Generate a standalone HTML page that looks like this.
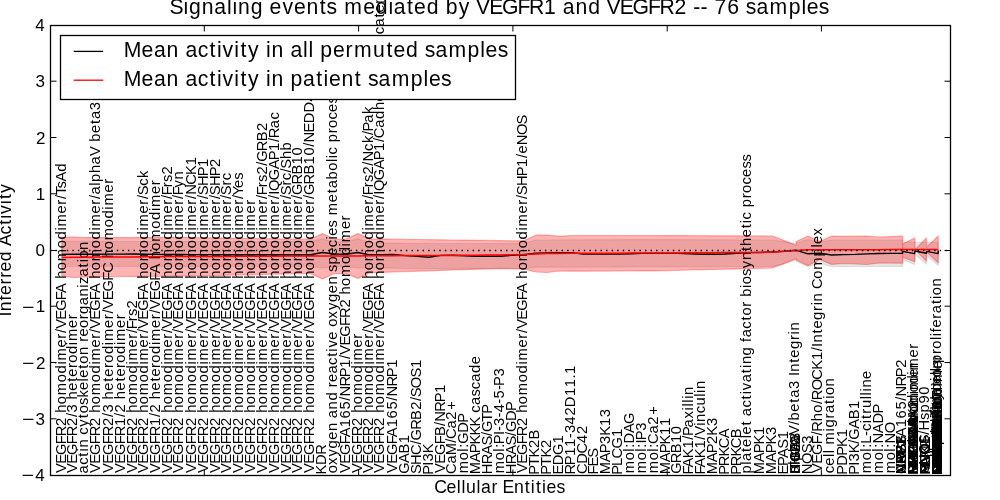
<!DOCTYPE html>
<html lang="en"><head><meta charset="utf-8"><title>Signaling events mediated by VEGFR1 and VEGFR2</title>
<style>html,body{margin:0;padding:0;background:#fff}body{width:1000px;height:500px;overflow:hidden}svg{display:block}text{font-family:"Liberation Sans",sans-serif;fill:#000;font-variant-ligatures:none;font-kerning:none;white-space:pre}.xl text{font-size:14.72px}.tk text{font-size:17.00px}.ax{font-size:17.67px}.big{font-size:21.20px}</style></head><body>
<svg width="1000" height="500" viewBox="0 0 1000 500">
<rect width="1000" height="500" fill="#fff"/>
<g opacity="0.999">
<polygon points="61.8,241.4 73.7,241.4 85.5,241.4 97.4,241.4 109.2,241.4 121.1,241.5 132.9,241.5 144.7,241.5 156.6,241.5 168.4,241.5 180.3,241.5 192.1,241.5 203.9,241.5 215.8,241.5 227.6,241.5 239.5,241.6 251.3,241.6 263.2,241.6 275.0,241.6 286.8,241.6 298.7,241.6 310.5,241.6 322.4,238.9 334.2,241.8 346.1,241.8 357.9,238.9 369.7,242.6 381.6,242.9 393.4,243.1 405.3,243.4 417.1,243.4 428.9,243.4 440.8,243.5 452.6,243.5 464.5,243.5 476.3,243.5 488.2,243.5 500.0,243.6 511.8,243.6 523.7,243.6 535.5,240.0 547.4,240.0 559.2,239.9 571.1,239.9 582.9,239.8 594.7,239.8 606.6,239.8 618.4,239.7 630.3,239.7 642.1,239.6 653.9,239.6 665.8,239.6 677.6,239.7 689.5,239.7 701.3,239.8 713.2,239.8 725.0,239.8 736.8,239.9 748.7,239.9 760.5,240.0 772.4,240.0 784.2,241.8 796.1,243.4 796.3,243.0 807.9,239.5 819.7,242.5 831.6,240.0 843.4,240.0 855.3,240.0 867.1,240.0 878.9,240.0 890.8,240.0 902.6,240.0 902.6,242.2 938.2,242.2 938.2,265.4 926.6,255.5 926.3,264.2 915.3,254.5 914.5,264.4 902.6,259.5 902.6,266.4 890.8,266.4 878.9,266.5 867.1,266.5 855.3,266.5 843.4,266.6 831.6,266.6 819.7,263.5 807.9,266.5 796.3,261.5 796.1,259.8 784.2,264.0 772.4,266.4 760.5,266.5 748.7,266.5 736.8,266.6 725.0,266.6 713.2,266.7 701.3,266.8 689.5,266.8 677.6,266.9 665.8,266.9 653.9,267.0 642.1,267.0 630.3,267.0 618.4,267.1 606.6,267.1 594.7,267.1 582.9,267.1 571.1,267.1 559.2,267.2 547.4,267.2 535.5,267.2 523.7,268.8 511.8,268.9 500.0,268.9 488.2,268.9 476.3,269.0 464.5,268.9 452.6,268.8 440.8,268.8 428.9,268.7 417.1,268.6 405.3,268.5 393.4,268.2 381.6,267.9 369.7,267.6 357.9,268.0 346.1,266.6 334.2,266.6 322.4,268.0 310.5,266.4 298.7,266.4 286.8,266.4 275.0,266.4 263.2,266.4 251.3,266.4 239.5,266.4 227.6,266.4 215.8,266.4 203.9,266.4 192.1,266.4 180.3,266.4 168.4,266.5 156.6,266.5 144.7,266.5 132.9,266.5 121.1,266.5 109.2,266.5 97.4,266.5 85.5,266.5 73.7,266.5 61.8,266.5" fill="rgb(128,128,128)" fill-opacity="0.2" stroke="rgb(128,128,128)" stroke-opacity="0.2" stroke-width="1.2" stroke-linejoin="round"/>
<polygon points="61.8,237.4 73.7,237.2 85.5,237.6 97.4,237.6 109.2,237.6 121.1,237.6 132.9,237.6 144.7,237.6 156.6,237.6 168.4,237.6 180.3,237.6 192.1,237.6 203.9,237.8 215.8,237.9 227.6,238.1 239.5,238.3 251.3,238.5 263.2,238.7 275.0,238.8 286.8,239.0 298.7,239.2 310.5,239.2 322.4,233.6 334.2,239.0 346.1,239.0 357.9,233.6 369.7,238.9 381.6,239.1 393.4,239.2 405.3,239.4 417.1,239.5 428.9,239.7 440.8,239.8 452.6,240.0 464.5,240.1 476.3,240.3 488.2,240.4 500.0,240.6 511.8,240.8 523.7,240.8 535.5,235.2 547.4,235.0 559.2,236.3 571.1,235.5 582.9,235.5 594.7,235.5 606.6,235.5 618.4,235.5 630.3,235.5 642.1,235.5 653.9,235.5 665.8,235.6 677.6,235.6 689.5,235.7 701.3,235.7 713.2,235.8 725.0,235.8 736.8,235.8 748.7,235.9 760.5,235.9 772.4,236.0 784.2,240.6 796.1,245.4 796.3,241.5 807.9,236.0 819.7,241.6 831.6,236.0 843.4,236.3 855.3,236.2 867.1,236.0 878.9,237.0 890.8,236.6 902.6,236.2 902.6,244.0 914.5,238.0 915.3,249.4 926.3,238.0 926.5,247.2 938.2,236.0 938.2,262.8 926.5,252.0 926.3,261.2 915.3,249.8 914.5,261.6 902.6,257.2 902.6,263.2 890.8,263.1 878.9,263.0 867.1,264.5 855.3,264.0 843.4,263.5 831.6,264.4 819.7,259.4 807.9,265.6 796.3,260.0 796.1,258.6 784.2,263.4 772.4,268.0 760.5,268.3 748.7,268.6 736.8,268.9 725.0,269.2 713.2,269.4 701.3,269.7 689.5,270.0 677.6,270.3 665.8,270.6 653.9,270.9 642.1,270.9 630.3,271.0 618.4,271.0 606.6,271.1 594.7,271.1 582.9,271.2 571.1,271.2 559.2,271.0 547.4,272.5 535.5,272.0 523.7,268.8 511.8,268.6 500.0,268.4 488.2,268.8 476.3,269.2 464.5,269.6 452.6,270.0 440.8,270.4 428.9,270.8 417.1,271.2 405.3,271.6 393.4,272.0 381.6,272.4 369.7,272.8 357.9,278.4 346.1,273.5 334.2,273.5 322.4,278.9 310.5,273.6 298.7,273.6 286.8,274.0 275.0,274.2 263.2,274.5 251.3,274.8 239.5,275.0 227.6,275.2 215.8,275.5 203.9,275.8 192.1,276.0 180.3,276.1 168.4,276.2 156.6,276.3 144.7,276.4 132.9,276.4 121.1,276.5 109.2,276.6 97.4,276.7 85.5,276.8 73.7,277.6 61.8,275.8" fill="rgb(255,0,0)" fill-opacity="0.3" stroke="rgb(255,0,0)" stroke-opacity="0.3" stroke-width="1.2" stroke-linejoin="round"/>
<path d="M902.6 244V257.2" stroke="rgb(255,0,0)" stroke-opacity="0.3" stroke-width="1.2" fill="none"/>
<g class="xl">
<text transform="translate(65.8 472.7) rotate(-90)" x="-0.3 8.9 17.8 28.4 36.4 46.8 55.4 59.9 68.5 77.5 90.5 99.2 108.1 112.3 125.3 134 139.7 143.9 153 161.9 172.5 179.6 189.4 193.9 202.5 211.5 224.5 233.2 242.1 246.3 259.3 268 273.7 277.8 284.2 291.2 301">VEGFR2 homodimer/VEGFA homodimer/TsAd</text>
<text transform="translate(76.8 472.7) rotate(-90)" x="-0.3 8.9 17.8 28.4 36.4 46.8 55.6 60.2 68.8 73.3 81.9 90.9 95.9 104.7 109.9 118.6 127.4 131.6 144.7 153.4">VEGFR2/3 heterodimer</text>
<text transform="translate(87.8 472.7) rotate(-90)" x="-0.7 7.9 16 21.2 25.1 33.7 38 45.9 54.4 59.4 67.7 75.2 82.7 91.3 95 104 109 117.7 126.3 130.9 136.2 144.7 153.4 158.8 167.5 176.3 185 188.6 196.2 205.3 210.4 214.2 222.8">actin cytoskeleton reorganization</text>
<text transform="translate(99.8 472.7) rotate(-90)" x="-0.3 8.9 17.8 28.4 36.4 46.8 55.4 59.9 68.5 77.5 90.5 99.2 108.1 112.3 125.3 134 139.7 143.9 153 161.9 172.5 179.6 189.4 193.9 202.5 211.5 224.5 233.2 242.1 246.3 259.3 268 273.7 278.2 286.9 290.8 299.7 308.3 316.6 326.4 331 339.7 348.7 353.7 362.5">VEGFR2 homodimer/VEGFA homodimer/alphaV beta3</text>
<text transform="translate(112.8 472.7) rotate(-90)" x="-0.3 8.9 17.8 28.4 36.4 46.8 55.6 60.2 68.8 73.3 81.9 90.9 95.9 104.7 109.9 118.6 127.4 131.6 144.7 153.4 159.1 163.2 172.4 181.3 191.9 199.9 210.3 214.8 223.4 232.4 245.4 254.1 262.9 267.1 280.2 288.9">VEGFR2/3 heterodimer/VEGFC homodimer</text>
<text transform="translate(124.8 472.7) rotate(-90)" x="-0.3 8.9 17.8 28.4 36.4 46.8 55.7 60.3 68.9 73.4 82.1 91.1 96.1 104.8 110 118.7 127.6 131.8 144.8 153.5">VEGFR1/2 heterodimer</text>
<text transform="translate(136.8 472.7) rotate(-90)" x="-0.3 8.9 17.8 28.4 36.4 46.8 55.4 59.9 68.5 77.5 90.5 99.2 108.1 112.3 125.3 134 139.7 143.5 151.4 156.7 164.2">VEGFR2 homodimer/Frs2</text>
<text transform="translate(147.8 472.7) rotate(-90)" x="-0.3 8.9 17.8 28.4 36.4 46.8 55.4 59.9 68.5 77.5 90.5 99.2 108.1 112.3 125.3 134 139.7 143.9 153 161.9 172.5 179.6 189.4 193.9 202.5 211.5 224.5 233.2 242.1 246.3 259.3 268 273.7 277.5 286.9 294.7">VEGFR2 homodimer/VEGFA homodimer/Sck</text>
<text transform="translate(159.8 472.7) rotate(-90)" x="-0.3 8.9 17.8 28.4 36.4 46.8 55.7 60.3 68.9 73.4 82.1 91.1 96.1 104.8 110 118.7 127.6 131.8 144.8 153.5 159.2 163.4 172.5 181.4 192 199.1 208.9 213.4 222 231 244 252.7 261.6 265.8 278.8 287.5">VEGFR1/2 heterodimer/VEGFA homodimer</text>
<text transform="translate(171.8 472.7) rotate(-90)" x="-0.3 8.9 17.8 28.4 36.4 46.8 55.4 59.9 68.5 77.5 90.5 99.2 108.1 112.3 125.3 134 139.7 143.9 153 161.9 172.5 179.6 189.4 193.9 202.5 211.5 224.5 233.2 242.1 246.3 259.3 268 273.7 277.5 285.4 290.7 298.2">VEGFR2 homodimer/VEGFA homodimer/Frs2</text>
<text transform="translate(182.8 472.7) rotate(-90)" x="-0.3 8.9 17.8 28.4 36.4 46.8 55.4 59.9 68.5 77.5 90.5 99.2 108.1 112.3 125.3 134 139.7 143.9 153 161.9 172.5 179.6 189.4 193.9 202.5 211.5 224.5 233.2 242.1 246.3 259.3 268 273.7 277.5 285.2 293.3">VEGFR2 homodimer/VEGFA homodimer/Fyn</text>
<text transform="translate(195.8 472.7) rotate(-90)" x="-0.3 8.9 17.8 28.4 36.4 46.8 55.4 59.9 68.5 77.5 90.5 99.2 108.1 112.3 125.3 134 139.7 143.9 153 161.9 172.5 179.6 189.4 193.9 202.5 211.5 224.5 233.2 242.1 246.3 259.3 268 273.7 277.9 287.9 297.8 307.5">VEGFR2 homodimer/VEGFA homodimer/NCK1</text>
<text transform="translate(207.8 472.7) rotate(-90)" x="-0.3 8.9 17.8 28.4 36.4 46.8 55.4 59.9 68.5 77.5 90.5 99.2 108.1 112.3 125.3 134 139.7 143.9 153 161.9 172.5 179.6 189.4 193.9 202.5 211.5 224.5 233.2 242.1 246.3 259.3 268 273.7 277.5 286.7 296.4 305.8">VEGFR2 homodimer/VEGFA homodimer/SHP1</text>
<text transform="translate(219.8 472.7) rotate(-90)" x="-0.3 8.9 17.8 28.4 36.4 46.8 55.4 59.9 68.5 77.5 90.5 99.2 108.1 112.3 125.3 134 139.7 143.9 153 161.9 172.5 179.6 189.4 193.9 202.5 211.5 224.5 233.2 242.1 246.3 259.3 268 273.7 277.5 286.7 296.4 305.8">VEGFR2 homodimer/VEGFA homodimer/SHP2</text>
<text transform="translate(230.8 472.7) rotate(-90)" x="-0.3 8.9 17.8 28.4 36.4 46.8 55.4 59.9 68.5 77.5 90.5 99.2 108.1 112.3 125.3 134 139.7 143.9 153 161.9 172.5 179.6 189.4 193.9 202.5 211.5 224.5 233.2 242.1 246.3 259.3 268 273.7 277.5 287.2 292.4">VEGFR2 homodimer/VEGFA homodimer/Src</text>
<text transform="translate(242.8 472.7) rotate(-90)" x="-0.3 8.9 17.8 28.4 36.4 46.8 55.4 59.9 68.5 77.5 90.5 99.2 108.1 112.3 125.3 134 139.7 143.9 153 161.9 172.5 179.6 189.4 193.9 202.5 211.5 224.5 233.2 242.1 246.3 259.3 268 273.7 277.3 284.7 292.9">VEGFR2 homodimer/VEGFA homodimer/Yes</text>
<text transform="translate(254.8 472.7) rotate(-90)" x="-0.3 8.9 17.8 28.4 36.4 46.8 55.4 59.9 68.5 77.5 90.5 99.2 108.1 112.3 125.3 134 139.7 143.9 153 161.9 172.5 179.6 189.4 193.9 202.5 211.5 224.5 233.2 242.1 246.3 259.3 268">VEGFR2 homodimer/VEGFA homodimer</text>
<text transform="translate(266.8 472.7) rotate(-90)" x="-0.3 8.9 17.8 28.4 36.4 46.8 55.4 59.9 68.5 77.5 90.5 99.2 108.1 112.3 125.3 134 139.7 143.9 153 161.9 172.5 179.6 189.4 193.9 202.5 211.5 224.5 233.2 242.1 246.3 259.3 268 273.7 277.5 285.4 290.7 298.2 306.9 310.9 321.5 331.5 341.6">VEGFR2 homodimer/VEGFA homodimer/Frs2/GRB2</text>
<text transform="translate(278.8 472.7) rotate(-90)" x="-0.3 8.9 17.8 28.4 36.4 46.8 55.4 59.9 68.5 77.5 90.5 99.2 108.1 112.3 125.3 134 139.7 143.9 153 161.9 172.5 179.6 189.4 193.9 202.5 211.5 224.5 233.2 242.1 246.3 259.3 268 273.7 278 281.8 292.5 303.5 312.4 321.8 330.7 334.5 344.5 353.1">VEGFR2 homodimer/VEGFA homodimer/IQGAP1/Rac</text>
<text transform="translate(290.8 472.7) rotate(-90)" x="-0.3 8.9 17.8 28.4 36.4 46.8 55.4 59.9 68.5 77.5 90.5 99.2 108.1 112.3 125.3 134 139.7 143.9 153 161.9 172.5 179.6 189.4 193.9 202.5 211.5 224.5 233.2 242.1 246.3 259.3 268 273.7 277.5 287.2 292.4 300.2 304 313.6 322.3">VEGFR2 homodimer/VEGFA homodimer/Src/Shb</text>
<text transform="translate(301.8 472.7) rotate(-90)" x="-0.3 8.9 17.8 28.4 36.4 46.8 55.4 59.9 68.5 77.5 90.5 99.2 108.1 112.3 125.3 134 139.7 143.9 153 161.9 172.5 179.6 189.4 193.9 202.5 211.5 224.5 233.2 242.1 246.3 259.3 268 273.7 277.7 288.3 298.2 308.3 317.2">VEGFR2 homodimer/VEGFA homodimer/GRB10</text>
<text transform="translate(313.8 472.7) rotate(-90)" x="-0.3 8.9 17.8 28.4 36.4 46.8 55.4 59.9 68.5 77.5 90.5 99.2 108.1 112.3 125.3 134 139.7 143.9 153 161.9 172.5 179.6 189.4 193.9 202.5 211.5 224.5 233.2 242.1 246.3 259.3 268 273.7 277.7 288.3 298.2 308.3 317.2 325.9 330.1 340.1 349.4 360.2 371.2">VEGFR2 homodimer/VEGFA homodimer/GRB10/NEDD4</text>
<text transform="translate(325.8 472.7) rotate(-90)" x="-1.7 7.7 17.9">KDR</text>
<text transform="translate(336.8 472.7) rotate(-90)" x="-0.6 7.8 16.1 24.2 32.9 41.6 50.2 54.5 63.3 72.1 80.8 85.4 90.7 99.2 107.8 115.9 121 125.1 133 141.5 145.9 154.3 162.6 170.7 179.4 188.1 196.7 200.8 208.3 217 225.5 233.3 237 245.3 252.7 257.5 270.5 279.5 284.5 293.3 302 310.7 314.5 318.3 325.9 330.4 339.4 344.7 353.1 360.8 369.1 376.2">oxygen and reactive oxygen species metabolic process</text>
<text transform="translate(349.8 472.7) rotate(-90)" x="-0.3 8.9 17.8 28.4 35.5 45.5 54.3 63.2 71.9 76.1 86.1 95.5 105 113.8 118 127.1 136 146.6 154.6 165.1 173.7 178.2 186.8 195.8 208.8 217.5 226.3 230.5 243.6 252.3">VEGFA165/NRP1/VEGFR2 homodimer</text>
<text transform="translate(361.8 472.7) rotate(-90)" x="-0.3 8.9 17.8 28.4 36.4 46.8 55.4 59.9 68.5 77.5 90.5 99.2 108.1 112.3 125.3 134">VEGFR2 homodimer</text>
<text transform="translate(372.8 472.7) rotate(-90)" x="-0.3 8.9 17.8 28.4 36.4 46.8 55.4 59.9 68.5 77.5 90.5 99.2 108.1 112.3 125.3 134 139.7 143.9 153 161.9 172.5 179.6 189.4 193.9 202.5 211.5 224.5 233.2 242.1 246.3 259.3 268 273.7 277.5 285.4 290.7 298.2 306.9 311.1 321.8 329.6 337.7 341.3 349.9 358.7">VEGFR2 homodimer/VEGFA homodimer/Frs2/Nck/Pak</text>
<text transform="translate(383.8 472.7) rotate(-90)" x="-0.3 8.9 17.8 28.4 36.4 46.8 55.4 59.9 68.5 77.5 90.5 99.2 108.1 112.3 125.3 134 139.7 143.9 153 161.9 172.5 179.6 189.4 193.9 202.5 211.5 224.5 233.2 242.1 246.3 259.3 268 273.7 278 281.8 292.5 303.5 312.4 321.8 330.7 334.5 344.9 353.7 362.6 371.2 379.9 385.6 389.4 398.2 402.8 411.6 420.6 425.5 434.2 438.5 446.2 455.3 460.3 468.9 477.7 481.6 490.3 494.8 503.6 507.5 516.3 524.9 533.6 537.9 545.5 554.7 559.7 568.3 577.1 580.9">VEGFR2 homodimer/VEGFA homodimer/IQGAP1/Cadherin/beta catenin/alpha catenin</text>
<text transform="translate(396.8 472.7) rotate(-90)" x="-0.3 8.9 17.8 28.4 35.5 45.5 54.3 63.2 71.9 76.1 86.1 95.5 105">VEGFA165/NRP1</text>
<text transform="translate(408.8 472.7) rotate(-90)" x="-1.1 9.8 19.3 29.4">GAB1</text>
<text transform="translate(420.8 472.7) rotate(-90)" x="-1.4 7.8 17.8 28.3 32.3 42.9 52.8 62.9 71.7 75.5 84.5 95.1 104.7">SHC/GRB2/SOS1</text>
<text transform="translate(432.8 472.7) rotate(-90)" x="-2.1 7 11.3 19.4">PI3K</text>
<text transform="translate(444.8 472.7) rotate(-90)" x="-0.3 8.9 17.8 28.4 36.7 46.8 51 61 70.4 79.8">VEGFB/NRP1</text>
<text transform="translate(455.8 472.7) rotate(-90)" x="-1.2 9.2 17.5 29.9 33.8 44.2 52.9 62.9">CaM/Ca2+</text>
<text transform="translate(467.8 472.7) rotate(-90)" x="-0.6 12.4 21 24.9 28.9 40 50">mol:GDP</text>
<text transform="translate(479.8 472.7) rotate(-90)" x="-1.5 10.5 19.4 28.1 37.1 46.1 55.7 60 67.7 76.1 83.4 91 99.8 108.5">MAPKKK cascade</text>
<text transform="translate(491.8 472.7) rotate(-90)" x="-1.5 8.5 18 27.1 36.7 40.7 51 59">HRAS/GTP</text>
<text transform="translate(503.8 472.7) rotate(-90)" x="-0.6 12.4 21 24.9 28.5 37.6 41.7 46.8 55.3 60.4 68.9 74.1 82.6 86.6 96.1">mol:PI-3-4-5-P3</text>
<text transform="translate(515.8 472.7) rotate(-90)" x="-1.5 8.5 18 27.1 36.7 40.7 51.8 61.8">HRAS/GDP</text>
<text transform="translate(526.8 472.7) rotate(-90)" x="-0.3 8.9 17.8 28.4 36.4 46.8 55.4 59.9 68.5 77.5 90.5 99.2 108.1 112.3 125.3 134 139.7 143.9 153 161.9 172.5 179.6 189.4 193.9 202.5 211.5 224.5 233.2 242.1 246.3 259.3 268 273.7 277.5 286.7 296.4 305.8 314.7 319.2 327.4 337.6 348.3">VEGFR2 homodimer/VEGFA homodimer/SHP1/eNOS</text>
<text transform="translate(538.8 472.7) rotate(-90)" x="-2.1 6.7 15.1 24.8 33.1">PTK2B</text>
<text transform="translate(550.8 472.7) rotate(-90)" x="-2.1 6.7 15.1 24.8">PTK2</text>
<text transform="translate(562.8 472.7) rotate(-90)" x="-1.9 7.4 17.8 29.2">EDG1</text>
<text transform="translate(574.8 472.7) rotate(-90)" x="-1.9 7.5 16.9 25.8 34.4 39.6 48.3 57.1 65.5 76.6 85.4 94.2 98.7">RP11-342D11.1</text>
<text transform="translate(586.8 472.7) rotate(-90)" x="-1.2 9 19.3 29.8 38.6">CDC42</text>
<text transform="translate(597.8 472.7) rotate(-90)" x="-1.9 6.1 14.9">FES</text>
<text transform="translate(609.8 472.7) rotate(-90)" x="-1.5 10.5 19.4 28.8 36.9 46.6 55.4">MAP3K13</text>
<text transform="translate(621.8 472.7) rotate(-90)" x="-2.1 6.8 14.3 24.2 35.6">PLCG1</text>
<text transform="translate(633.8 472.7) rotate(-90)" x="-0.6 12.4 21 24.9 29.3 39.6 48.7">mol:DAG</text>
<text transform="translate(645.8 472.7) rotate(-90)" x="-0.6 12.4 21 24.9 29.3 32.5 41.9">mol:IP3</text>
<text transform="translate(657.8 472.7) rotate(-90)" x="-0.6 12.4 21 24.9 28.8 39.2 47.9 57.9">mol:Ca2+</text>
<text transform="translate(669.8 472.7) rotate(-90)" x="-1.5 10.5 19.4 28.1 37.8 46.7">MAPK11</text>
<text transform="translate(680.8 472.7) rotate(-90)" x="-1.1 9.5 19.5 29.6 38.4">GRB10</text>
<text transform="translate(692.8 472.7) rotate(-90)" x="-1.9 5.2 14.5 24.2 33 36.6 45.3 54.2 62.3 66.2 70 73.9 77.8">FAK1/Paxillin</text>
<text transform="translate(704.8 472.7) rotate(-90)" x="-1.9 5.2 14.5 24.2 33 37.2 46.9 50.8 59.4 67.2 75.9 79.8 83.7">FAK1/Vinculin</text>
<text transform="translate(716.8 472.7) rotate(-90)" x="-1.5 10.5 19.4 28.8 36.9 46.6">MAP2K3</text>
<text transform="translate(728.8 472.7) rotate(-90)" x="-2.1 6.5 16.3 24.4 34.5">PRKCA</text>
<text transform="translate(740.8 472.7) rotate(-90)" x="-2.1 6.5 16.3 24.4 34.5">PRKCB</text>
<text transform="translate(750.8 472.7) rotate(-90)" x="-0.9 7.9 11.7 20.8 25.8 34.4 38.2 47.2 52.2 56.5 65.1 73.3 78.4 82.4 90.4 99.5 104.7 108.6 117.3 126 130.6 135.4 144 152.2 157.2 165.9 171.4 175.9 184.8 188.5 196.8 204.4 212.6 221.7 226.8 235.4 244.4 249.5 253.3 260.9 265.4 274.4 279.7 288.1 295.8 304.1 311.2">platelet activating factor biosynthetic process</text>
<text transform="translate(763.8 472.7) rotate(-90)" x="-1.5 10.5 19.4 28.1 37.8">MAPK1</text>
<text transform="translate(775.8 472.7) rotate(-90)" x="-1.5 10.5 19.4 28.1 37.8">MAPK3</text>
<text transform="translate(787.8 472.7) rotate(-90)" x="-1.9 6.6 14.7 23.9 33.4">EPAS1</text>
<text transform="translate(798.8 472.7) rotate(-90)" x="-0.7 8 11.9 20.8 29.4 37.7 47.7 52.3 61 70 75 83.8 92.4 96.6 100.9 110 115 123.7 132.7 138.3 142.2">alphaV/beta3 Integrin</text>
<text transform="translate(811.8 472.7) rotate(-90)" x="-1.5 8.7 19.4 28.9">NOS3</text>
<text transform="translate(821.8 472.7) rotate(-90)" x="-0.3 8.9 17.8 28.4 37.2 41 51.4 60 68.7 72.5 82.4 93 102.9 112.6 121.4 125.8 130.1 139.2 144.2 152.8 161.8 167.4 171.3 179.9 183.7 194 203 216.2 225.1 228.8 237.3">VEGF/Rho/ROCK1/Integrin Complex</text>
<text transform="translate(833.8 472.7) rotate(-90)" x="-0.6 7 15.7 19.5 23.3 28.1 41.3 45.2 54.2 59.7 68.8 73.9 77.7 86.3">cell migration</text>
<text transform="translate(846.8 472.7) rotate(-90)" x="-2.1 7 17 25.8 35.4">PDPK1</text>
<text transform="translate(858.8 472.7) rotate(-90)" x="-2.1 7 11.3 19.4 29 33 44 53.5 63.6">PI3K/GAB1</text>
<text transform="translate(870.8 472.7) rotate(-90)" x="-0.6 12.4 21 24.9 29 36.8 41.8 49.5 53.8 59 64.7 73.4 77.3 81.2 85.1 93.7">mol:L-citrulline</text>
<text transform="translate(882.8 472.7) rotate(-90)" x="-0.6 12.4 21 24.9 29.1 39.5 49.2 59.1">mol:NADP</text>
<text transform="translate(894.8 472.7) rotate(-90)" x="-0.6 12.4 21 24.9 29.1 39.4">mol:NO</text>
<text transform="translate(799.8 472.7) rotate(-90)" x="-1.4 2.4 10.8 21.7 30.3">ITGAV</text>
<text transform="translate(799.8 472.7) rotate(-90)" x="-1.4 2.4 10.8 21.7 31.8">ITGB3</text>
<text transform="translate(799.8 472.7) rotate(-90)" x="-1.4 7.8 17.8 28.3">SHC2</text>
<text transform="translate(905.8 472.7) rotate(-90)" x="-0.3 8.9 17.8 28.4 35.5 45.5 54.3 63.2 71.9 76.1 86.1 95.5 105">VEGFA165/NRP2</text>
<text transform="translate(905.8 472.7) rotate(-90)" x="-1.5 8.5 17.9 27.3">NRP2</text>
<text transform="translate(905.8 472.7) rotate(-90)" x="-1.5 8.5 17.9 27.3">NRP1</text>
<text transform="translate(905.8 472.7) rotate(-90)" x="-1.2 8.8 17.5 27.4">CAV1</text>
<text transform="translate(905.8 472.7) rotate(-90)" x="-0.3 9 17 26.1">AKT1</text>
<text transform="translate(905.8 472.7) rotate(-90)" x="-1.5 8.7 19.4 28.9">NOS3</text>
<text transform="translate(917.8 472.7) rotate(-90)" x="-0.3 8.9 17.8 28.4 35.5 45.3 49.8 58.4 67.4 80.4 89.1 97.9 102.1 115.2 123.9">VEGFA homodimer</text>
<text transform="translate(917.8 472.7) rotate(-90)" x="-2.1 6.7 17.2 25.9 30.4 39 48 61 69.7 78.5 82.8 95.8 104.5">PGF homodimer</text>
<text transform="translate(917.8 472.7) rotate(-90)" x="-1.5 8.5 17 26.4 35.3 43.6 53.5 63.4">HSP90AA1</text>
<text transform="translate(917.8 472.7) rotate(-90)" x="-1.5 10.5 19.4 28.1 37.1 46 54.8 64.4">MAPKAPK2</text>
<text transform="translate(917.8 472.7) rotate(-90)" x="-2.1 6.5 16.3 25.2 34.2 44.2">PRKACA</text>
<text transform="translate(917.8 472.7) rotate(-90)" x="-1.5 10.5 19.4 28.8 36.9 46.6">MAP2K6</text>
<text transform="translate(917.8 472.7) rotate(-90)" x="-1.5 10.5 19.4 28.1 37.8 46.7">MAPK14</text>
<text transform="translate(917.8 472.7) rotate(-90)" x="-1.4 7.8 18.6 27 38.1 46.3">SH2D2A</text>
<text transform="translate(917.8 472.7) rotate(-90)" x="-0.3 8.9 17.8 28.4 35.5">VEGFA</text>
<text transform="translate(917.8 472.7) rotate(-90)" x="-1.5 9 12.5 21.3 29.7">HIF1A</text>
<text transform="translate(917.8 472.7) rotate(-90)" x="-1.9 8.2 18.4 29.1">RHOA</text>
<text transform="translate(928.8 472.7) rotate(-90)" x="-0.6 7.6 17.9 28.5 38 42.3 52.7 60.2 69.1 77.9">eNOS/Hsp90</text>
<text transform="translate(929.8 472.7) rotate(-90)" x="-1.5 8.5 18.4 28.1">NCK1</text>
<text transform="translate(929.8 472.7) rotate(-90)" x="-2.1 6 15.3 24.9">PAK2</text>
<text transform="translate(929.8 472.7) rotate(-90)" x="-1.9 6.4 12.2 21.3">FLT1</text>
<text transform="translate(929.8 472.7) rotate(-90)" x="-1.5 10 18 28.6">MYOF</text>
<text transform="translate(940.8 472.7) rotate(-90)" x="-0.6 8.1 16.8 25.5 34.5 39.7 48.3 56.9 60.8 64.5 73.3 77 81.4 89 97.7 101.5 105.3 109.8 118.8 124 132.7 136.5 140.5 145.3 154 159.5 168.7 173.8 177.5 186.2">endothelial cell proliferation</text>
<text transform="translate(941.8 472.7) rotate(-90)" x="-2.1 6.8 14.4 25 33.7 38.2 46.8 55.8 68.8 77.4 86.3 90.5 103.5 112.3">PLGF homodimer</text>
<text transform="translate(940.8 472.7) rotate(-90)" x="-0.6 7 15.7 19.5 23.3 27.8 36.8 42 50.7 54.5 58.5 63.3 72 77.5 86.7 91.8 95.5 104.2">cell proliferation</text>
<text transform="translate(941.8 472.7) rotate(-90)" x="-1.5 9 12.5 21.3 29.7 39.7 43.8 53 63 73.2">HIF1A/ARNT</text>
<text transform="translate(941.8 472.7) rotate(-90)" x="0 8 16.4 23.7 32.4 41.2 45.1 48.9 58 63.1 66.9 75.5">vasodilation</text>
<text transform="translate(941.8 472.7) rotate(-90)" x="-0.3 8.9 17.8 28.4 36.4 46.8 55.7 60.3">VEGFR1/2</text>
<text transform="translate(941.8 472.7) rotate(-90)" x="-1.2 9.2 18.1 26 34.5 43.2 47 50.9 59.4 64.6">Caveolin-1</text>
<text transform="translate(940.8 472.7) rotate(-90)" x="-0.6 7 15.7 19.5 23.3 28.1 41.2 50.2 55.3 59.2 63 67.3 72.6">cell motility</text>
<text transform="translate(941.8 472.7) rotate(-90)" x="-1.5 8.5 17 26.4 35.3 43.6 53.1 63.2">HSP90AB1</text>
<text transform="translate(941.8 472.7) rotate(-90)" x="-1.2 8.7 17.4 27.7 38.1 48.2">CTNNB1</text>
<text transform="translate(941.8 472.7) rotate(-90)" x="-1.2 8.7 17.4 27.7 38.1 48.1">CTNNA1</text>
<text transform="translate(941.8 472.7) rotate(-90)" x="-2.1 6.7 14.8 23.7 34.6 43.4">PTPN11</text>
<text transform="translate(941.8 472.7) rotate(-90)" x="-2.1 7 10.6 20.3 28.3 38.3">PIK3CA</text>
<text transform="translate(941.8 472.7) rotate(-90)" x="-2.1 7 10.6 20.3 28.3 38.7">PIK3R1</text>
<text transform="translate(941.8 472.7) rotate(-90)" x="-2.1 6.5 16.3 25.2 35.1 45.1">PRKAA1</text>
<text transform="translate(941.8 472.7) rotate(-90)" x="-2.1 6.5 16.3 25.2 34.7 44.8">PRKAB1</text>
<text transform="translate(941.8 472.7) rotate(-90)" x="-2.1 6.5 16.3 25.2 34.3 45.7">PRKAG1</text>
<text transform="translate(941.8 472.7) rotate(-90)" x="-1.5 8.5 17 26 36.1">HSPB1</text>
<text transform="translate(941.8 472.7) rotate(-90)" x="-1.9 8 18.7 28.5 38.2">ROCK1</text>
<text transform="translate(941.8 472.7) rotate(-90)" x="-0.3 8.9 17.8 28.4 36.7">VEGFB</text>
<text transform="translate(941.8 472.7) rotate(-90)" x="-1.5 8.5 17.8 28.5 39.6">NEDD4</text>
<text transform="translate(941.8 472.7) rotate(-90)" x="-2.1 6.7 14.8 23.7 34.6">PTPN6</text>
<text transform="translate(941.8 472.7) rotate(-90)" x="-1.5 10.5 19.4 28.8 36.9 46.6">MAP2K1</text>
<text transform="translate(941.8 472.7) rotate(-90)" x="-1.5 10.5 19.4 28.8 36.9 46.6">MAP2K2</text>
</g>
<polyline points="61.8,254.4 73.7,254.3 85.5,254.3 97.4,254.2 109.2,254.1 121.1,254.1 132.9,254.0 144.7,254.2 156.6,254.4 168.4,254.5 180.3,254.5 192.1,254.6 203.9,254.6 215.8,254.6 227.6,254.7 239.5,254.7 251.3,254.7 263.2,254.7 275.0,254.8 286.8,254.8 298.7,254.8 310.5,254.8 322.4,252.5 334.2,254.0 346.1,254.2 357.9,252.5 369.7,255.0 381.6,254.8 393.4,254.5 405.3,255.6 417.1,256.4 428.9,257.2 440.8,255.4 452.6,255.3 464.5,255.8 476.3,256.2 488.2,256.2 500.0,256.2 511.8,255.4 523.7,254.6 535.5,253.2 547.4,253.0 559.2,252.6 571.1,252.6 582.9,254.0 594.7,254.0 606.6,254.0 618.4,254.0 630.3,253.7 642.1,253.4 653.9,253.4 665.8,253.4 677.6,253.4 689.5,253.9 701.3,254.3 713.2,254.2 725.0,254.0 736.8,253.3 748.7,252.6 760.5,252.6 772.4,251.9 784.2,251.2 796.1,250.2 796.3,250.4 807.9,253.8 819.7,253.2 831.6,255.0 843.4,254.6 855.3,254.4 867.1,253.9 878.9,253.5 890.8,253.4 902.6,253.3 902.6,251.4 914.5,253.6 915.0,251.0 926.3,253.2 926.7,251.4 938.2,253.6 938.2,250.6" fill="none" stroke="#000" stroke-width="1.39" stroke-linejoin="round"/>
<polyline points="61.8,257.4 73.7,257.3 85.5,257.2 97.4,257.1 109.2,257.1 121.1,257.0 132.9,256.9 144.7,256.8 156.6,256.7 168.4,256.6 180.3,256.6 192.1,256.5 203.9,256.5 215.8,256.4 227.6,256.4 239.5,256.3 251.3,256.3 263.2,256.2 275.0,256.2 286.8,256.1 298.7,256.1 310.5,256.0 322.4,256.0 334.2,255.9 346.1,255.9 357.9,255.9 369.7,255.8 381.6,255.7 393.4,255.7 405.3,255.6 417.1,255.6 428.9,255.5 440.8,255.5 452.6,255.4 464.5,255.3 476.3,255.2 488.2,255.1 500.0,255.0 511.8,254.8 523.7,254.5 535.5,254.1 547.4,253.6 559.2,253.4 571.1,253.3 582.9,253.3 594.7,253.2 606.6,253.2 618.4,253.2 630.3,253.1 642.1,253.1 653.9,253.0 665.8,252.9 677.6,252.9 689.5,252.8 701.3,252.8 713.2,252.7 725.0,252.6 736.8,252.6 748.7,252.5 760.5,252.3 772.4,252.2 784.2,251.3 796.1,250.4 796.3,250.4 807.9,249.8 819.7,249.8 831.6,249.8 843.4,249.7 855.3,249.7 867.1,249.7 878.9,249.7 890.8,249.6 902.6,249.6 938.2,249.5" fill="none" stroke="#f00" stroke-width="1.5" stroke-linejoin="round"/>
<line x1="50.5" y1="250.5" x2="950.5" y2="250.5" stroke="#000" stroke-width="1.39" stroke-dasharray="1.39 4.17" stroke-dashoffset="0.4"/>
<rect x="50.5" y="25.5" width="900" height="450" fill="none" stroke="#000" stroke-width="1.3"/>
<path d="M51 25.5h5.5M950 25.5h-5.5M51 81.2h5.5M950 81.2h-5.5M51 137.5h5.5M950 137.5h-5.5M51 193.8h5.5M950 193.8h-5.5M51 250.5h5.5M950 250.5h-5.5M51 306.2h5.5M950 306.2h-5.5M51 362.5h5.5M950 362.5h-5.5M51 418.8h5.5M950 418.8h-5.5M51 475.5h5.5M950 475.5h-5.5M204.3 475v-5.5M204.3 26v5.5M358.6 475v-5.5M358.6 26v5.5M512.9 475v-5.5M512.9 26v5.5M667.2 475v-5.5M667.2 26v5.5M821.4 475v-5.5M821.4 26v5.5" stroke="#000" stroke-width="1" fill="none"/>
<g class="tk">
<text x="35.3" y="31">4</text>
<text x="35.6" y="87.2">3</text>
<text x="35.9" y="143.5">2</text>
<text x="35.7" y="199.8">1</text>
<text x="35.4" y="256">0</text>
<text x="22" y="312.6" textLength="12.5" lengthAdjust="spacingAndGlyphs">−</text>
<text x="35.7" y="312.2">1</text>
<text x="22.1" y="368.9" textLength="12.5" lengthAdjust="spacingAndGlyphs">−</text>
<text x="35.9" y="368.5">2</text>
<text x="21.9" y="425.1" textLength="12.5" lengthAdjust="spacingAndGlyphs">−</text>
<text x="35.6" y="424.8">3</text>
<text x="21.6" y="481.4" textLength="12.5" lengthAdjust="spacingAndGlyphs">−</text>
<text x="35.3" y="481">4</text>
</g>
<text x="434.2 446.5 456.8 461.5 466.1 476.6 481.1 491.5 498.1 502.5 513.9 524.8 530.8 535.9 542 546.5 556.4" y="493" class="ax">Cellular Entities</text>
<text transform="translate(10.8 249.4) rotate(-90)" x="-67 -61.8 -51.2 -45.6 -35 -28.4 -22.2 -11.8 -1.5 3.4 14.9 24.7 30.7 35.5 45.2 50.3 56.5" class="ax">Inferred Activity</text>
<text x="169.6 183.5 189.1 201.8 214.3 226.9 232.4 237.9 250.7 263.2 269.6 282.4 293.9 306.4 319.7 326.5 337.2 344.3 363.2 375.8 388.5 393.8 407 414.1 426.7 439.2 445.8 458.7 470.2 476.1 489.2 502.1 517.4 528.9 544 556.5 562.8 575.4 588.2 600.7 606.6 619.7 632.6 647.9 659.4 674.5 687 693.2 700.4 707.9 714.5 727.2 739.7 745.8 756.5 769.5 788.7 801.4 806.7 818.8" y="14.2" class="big">Signaling events mediated by VEGFR1 and VEGFR2 -- 76 samples</text>
<rect x="60.5" y="35.5" width="455" height="64" fill="#fff" stroke="#000" stroke-width="1.3"/>
<line x1="73.7" y1="51.4" x2="103.1" y2="51.4" stroke="#000" stroke-width="1.3"/>
<line x1="73.7" y1="80.2" x2="103.1" y2="80.2" stroke="#f00" stroke-width="1.3"/>
<text x="123.8 141.6 154 166.6 179.1 185.5 197.8 209.6 216.9 222.6 234.3 240.4 247.9 259.4 265.9 271.4 284 290.4 302.9 308.4 313.7 320.3 332.9 345.6 353.9 373.1 386.4 393.5 406.1 418.6 424.7 435.4 448.4 467.6 480.3 485.6 497.7" y="56.5" class="big">Mean activity in all permuted samples</text>
<text x="123.8 141.6 154 166.6 179.1 185.5 197.8 209.6 216.9 222.6 234.3 240.4 247.9 259.4 265.9 271.4 284 290.6 303.1 316.2 323.5 328.9 341.4 354.7 361.9 367.9 378.6 391.7 410.8 423.5 428.9 440.9" y="86" class="big">Mean activity in patient samples</text>
</g>
</svg></body></html>
